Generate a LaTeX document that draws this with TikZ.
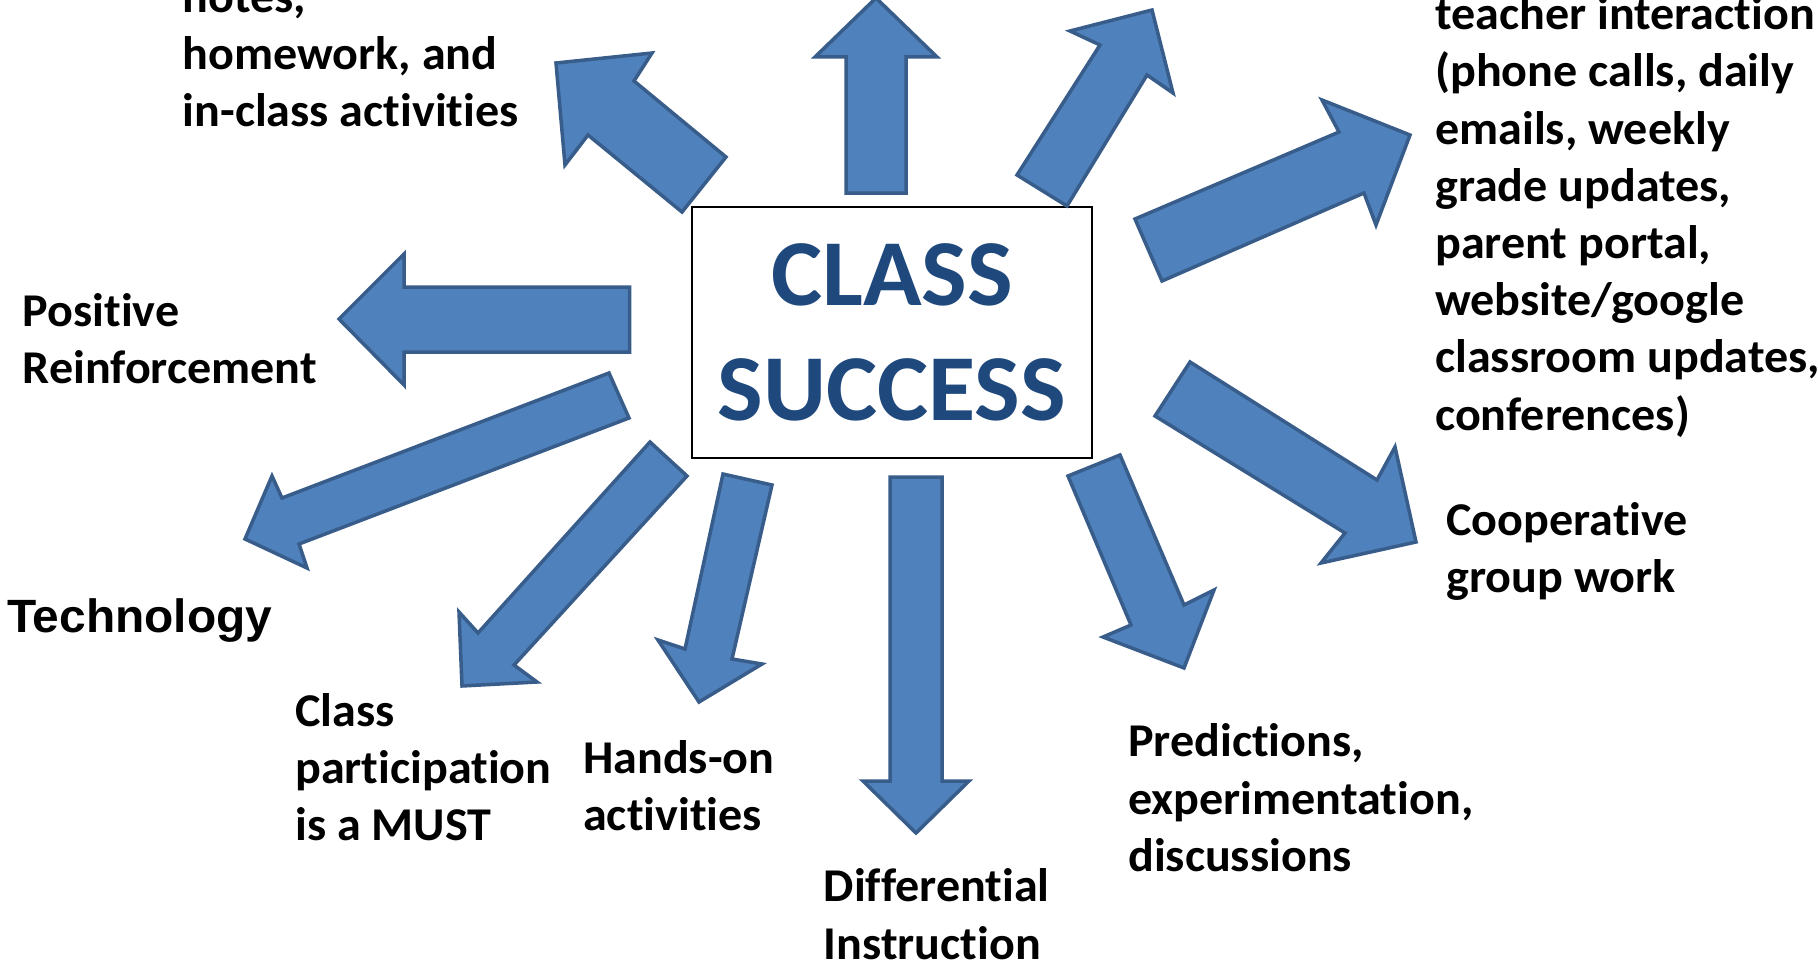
\documentclass[tikz,border=0pt]{standalone}
\usepackage{fontspec}
\newfontfamily\calfont[FakeStretch=1.023, Ligatures=NoCommon]{Carlito}
\newfontfamily\arialfont[FakeStretch=1.025]{Liberation Sans}
\definecolor{arrowfill}{HTML}{4F81BD}
\definecolor{arrowline}{HTML}{385D8A}
\definecolor{titleblue}{HTML}{1F497D}
\newcommand{\firstline}{\rule{0pt}{45pt}}
\tikzset{
  blockarrow/.style={fill=arrowfill, draw=arrowline, line width=3.5pt, line join=miter},
  lbl/.style={font=\calfont\bfseries\fontsize{47}{57.2}\selectfont, align=left, inner sep=0pt, anchor=north west, text=black},
  titlebox/.style={draw=black, line width=2pt, fill=white, minimum width=400pt, minimum height=251pt, inner sep=0pt,
    font=\calfont\bfseries\fontsize{94.4}{115}\selectfont, text=titleblue, align=center}
}
\begin{document}
\begin{tikzpicture}[x=1pt,y=-1pt]
\useasboundingbox (0,0) rectangle (1818,966);
\fill[white] (0,0) rectangle (1818,966);

% central box
\node[titlebox] (center) at (892,332.5) {\raisebox{-2pt}{CLASS}\\\raisebox{-2pt}{SUCCESS}};

% arrows
\draw[blockarrow] (556,63) -- (652,53) -- (634,81) -- (726,157) -- (682,212) -- (588,135) -- (565,165) -- cycle;
\draw[blockarrow] (876,-2) -- (937,57) -- (906,57) -- (906,193) -- (846,193) -- (846,57) -- (815,57) -- cycle;
\draw[blockarrow] (1152,10) -- (1173,93) -- (1147,75) -- (1067,206) -- (1017,175) -- (1100,45) -- (1070,31) -- cycle;
\draw[blockarrow] (1135,219) -- (1339,132) -- (1322,100) -- (1410,135) -- (1376,225) -- (1364,193) -- (1162,281) -- cycle;
\draw[blockarrow] (339,319) -- (404,254) -- (404,287) -- (629.5,287) -- (629.5,352) -- (404,352) -- (404,385) -- cycle;
\draw[blockarrow] (609,373) -- (282,498) -- (272,476) -- (245,539) -- (307,568) -- (299,544) -- (629,418) -- cycle;
\draw[blockarrow] (650,442) -- (478,633) -- (459,612) -- (462,686) -- (537,682) -- (514,665) -- (687,476) -- cycle;
\draw[blockarrow] (723,474) -- (685,649) -- (658,640) -- (699,702) -- (762,664) -- (732,659) -- (772,485) -- cycle;
\draw[blockarrow] (890,477) -- (942,477) -- (942,781) -- (969,781) -- (916,833) -- (863,781) -- (890,781) -- cycle;
\draw[blockarrow] (1068,476) -- (1131,625) -- (1103,637) -- (1184,668) -- (1214,590) -- (1184,605) -- (1120,455) -- cycle;
\draw[blockarrow] (1190,362) -- (1377,480) -- (1395,447) -- (1416,542) -- (1321,563) -- (1345,533) -- (1155,416) -- cycle;

% labels
\node[lbl] (notes) at (182.5,-32.7) {\firstline notes,\\homework, and\\in-class activities};
\node[lbl] (teacher) at (1435,-15.5) {\firstline teacher interaction\\(phone calls, daily\\emails, weekly\\grade updates,\\parent portal,\\website/google\\classroom updates,\\conferences)};
\node[lbl] (positive) at (22.5,281.5) {\firstline Positive\\Reinforcement};
\node[font=\arialfont\bfseries\fontsize{46.7}{56}\selectfont, inner sep=0pt, anchor=base west] (tech) at (7,632) {Technology};
\node[lbl] (participation) at (295,681) {\firstline Class\\participation\\is a MUST};
\node[lbl] (handson) at (583,728.3) {\firstline Hands-on\\activities};
\node[lbl] (differential) at (823.5,856.7) {\firstline Differential\\Instruction};
\node[lbl] (predictions) at (1128,711.7) {\firstline Predictions,\\experimentation,\\discussions};
\node[lbl] (cooperative) at (1446.3,490) {\firstline Cooperative\\group work};
\end{tikzpicture}
\end{document}
